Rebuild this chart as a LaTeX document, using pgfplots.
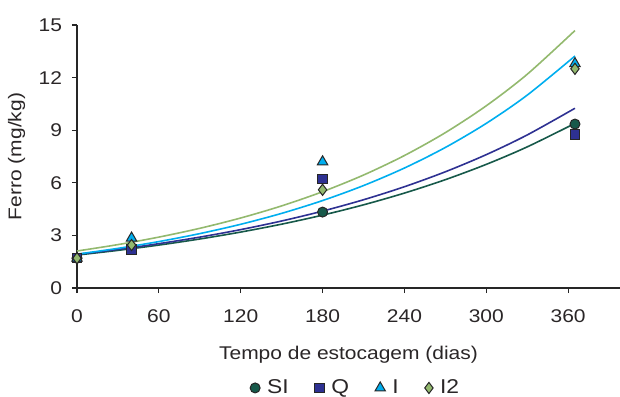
\documentclass[border=0pt]{standalone}
\usepackage{pgfplots}
\pgfplotsset{compat=1.18}
\usepackage{fontspec}
\setmainfont{Liberation Sans}[FakeStretch=1.14]
\definecolor{SIcol}{HTML}{17594A}
\definecolor{Qcol}{HTML}{2E3192}
\definecolor{Icol}{HTML}{00AEEF}
\definecolor{Ithcol}{HTML}{93B96E}
\definecolor{txt}{HTML}{2A2627}
\begin{document}
\begin{tikzpicture}
\useasboundingbox (-38.5pt,-54pt) rectangle (271.5pt,144pt);
\begin{axis}[
  at={(0pt,0pt)}, anchor=south west,
  scale only axis,
  width=271.5pt, height=131.5pt,
  xmin=0, xmax=398, ymin=0, ymax=15,
  axis x line=bottom, axis y line=left,
  axis line style={-, line width=0.7pt, black!85},
  xtick={0,60,120,180,240,300,360},
  ytick={0,3,6,9,12,15},
  tick align=outside,
  major tick length=2.5pt,
  tick style={line width=0.6pt, black!85},
  font=\fontsize{9.2}{11}\selectfont,
  tick label style={font=\fontsize{9.2}{11}\selectfont, text=txt},
  yticklabel style={xshift=-1.5pt},
  xticklabel style={yshift=-5pt},
  /pgf/number format/assume math mode=true,
  xlabel={Tempo de estocagem (dias)},
  ylabel={Ferro (mg/kg)},
  xlabel style={at={(axis description cs:0.5,-0.255)}, anchor=center, text=txt},
  ylabel style={at={(axis description cs:-0.111,0.5)}, anchor=center, rotate=0, text=txt},
  legend style={draw=none, fill=none, at={(axis description cs:0.515,-0.38)}, anchor=center,
    font=\fontsize{10}{12}\selectfont, text=txt, legend columns=4,
    /tikz/every even column/.append style={column sep=11pt},
    /tikz/every odd column/.append style={column sep=1.5pt}},
  legend cell align=left,
  clip=false,
]
% fitted curves
\addplot[SIcol, line width=0.8pt, smooth, forget plot] coordinates {
(0,1.880) (30,2.146) (60,2.449) (90,2.795) (120,3.190) (150,3.641) (180,4.156)
(210,4.743) (240,5.414) (270,6.179) (300,7.052) (330,8.049) (365,9.390)};
\addplot[Qcol, line width=0.8pt, smooth, forget plot] coordinates {
(0,1.920) (30,2.203) (60,2.529) (90,2.902) (120,3.330) (150,3.822) (180,4.386)
(210,5.033) (240,5.776) (270,6.629) (300,7.607) (330,8.730) (365,10.251)};
\addplot[Icol, line width=0.8pt, smooth, forget plot] coordinates {
(0,1.930) (30,2.261) (60,2.648) (90,3.102) (120,3.634) (150,4.257) (180,4.987)
(210,5.842) (240,6.843) (270,8.016) (300,9.391) (330,11.001) (365,13.231)};
\addplot[Ithcol, line width=0.8pt, smooth, forget plot] coordinates {
(0,2.110) (30,2.475) (60,2.903) (90,3.404) (120,3.993) (150,4.683) (180,5.493)
(210,6.442) (240,7.556) (270,8.862) (300,10.394) (330,12.191) (365,14.684)};
% observed data
\addplot[only marks, mark=*, mark size=2.5pt, mark options={fill=SIcol, draw=black!85, line width=0.5pt}] coordinates {
(0,1.7) (40,2.3) (180,4.33) (365,9.35)};
\addlegendentry{SI}
\addplot[only marks, mark=square*, mark size=2.4pt, mark options={fill=Qcol, draw=black!85, line width=0.5pt}] coordinates {
(0,1.7) (40,2.2) (180,6.22) (365,8.77)};
\addlegendentry{Q}
\addplot[only marks, mark=triangle*, mark size=3pt, mark options={fill=Icol, draw=black!85, line width=0.5pt}] coordinates {
(0,1.7) (40,2.85) (180,7.2) (365,12.8)};
\addlegendentry{I}
\addplot[only marks, mark=diamond*, mark size=2.8pt, mark options={fill=Ithcol, draw=black!85, line width=0.5pt}] coordinates {
(0,1.7) (40,2.45) (180,5.6) (365,12.5)};
\addlegendentry{I2}
\end{axis}
\end{tikzpicture}
\end{document}
